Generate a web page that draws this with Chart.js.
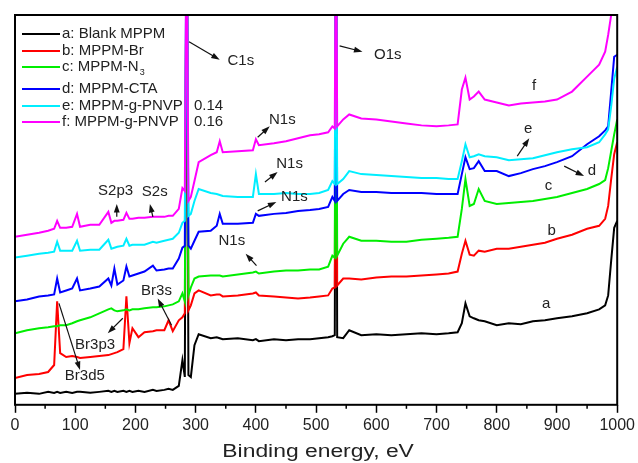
<!DOCTYPE html>
<html>
<head>
<meta charset="utf-8">
<script src="https://cdn.jsdelivr.net/npm/chart.js@4.4.0/dist/chart.umd.min.js"></script>
<style>
  body { margin: 0; background: #fff; }
  canvas { display: block; }
</style>
</head>
<body>
<canvas id="xpsChart" width="638" height="463"></canvas>
<script>
// binding energy (eV), shared by every spectrum
const energy = [0, 20, 40, 55, 65, 70, 75, 85, 95, 103,
  108, 125, 140, 155, 160, 165, 170, 180, 185, 190,
  195, 205, 215, 229, 235, 248, 255, 262, 272, 278,
  282, 285, 288, 292, 298, 305, 325, 335, 340, 345,
  370, 395, 400, 405, 430, 450, 470, 490, 505, 520,
  527, 531, 533, 535, 545, 555, 575, 600, 625, 650,
  675, 700, 720, 735, 742, 748, 755, 762, 770, 780,
  800, 820, 840, 860, 880, 900, 925, 950, 970, 980,
  985, 990, 995, 1000];

// intensities (a.u., curves already offset as in the figure)
const blankMPPM = [11, 12, 11, 13, 12, 13, 12, 13, 12, 13,
  13, 12, 13, 14, 13, 14, 13, 14, 13, 14,
  13, 14, 13, 15, 14, 15, 16, 15, 19, 45,
  28, 520, 30, 28, 60, 71, 67, 68, 67, 66,
  67, 65, 66, 64, 66, 65, 66, 66, 67, 68,
  69, 70, 520, 68, 67, 75, 70, 71, 70, 71,
  72, 71, 72, 73, 82, 102, 89, 87, 85, 84,
  80, 82, 81, 84, 85, 87, 89, 92, 96, 100,
  110, 145, 178, 185];
const mppmBr = [27, 30, 31, 33, 40, 104, 52, 48, 49, 48,
  47, 48, 49, 50, 51, 52, 53, 56, 109, 62,
  77, 68, 73, 74, 75, 75, 85, 74, 85, 88,
  92, 520, 95, 100, 112, 115, 110, 111, 111, 109,
  110, 112, 113, 110, 109, 108, 107, 108, 109, 110,
  117, 118, 520, 120, 127, 127, 126, 128, 129, 129,
  130, 131, 132, 134, 152, 165, 151, 150, 155, 154,
  157, 157, 159, 161, 163, 167, 171, 177, 180, 187,
  200, 227, 252, 264];
const mppmN3 = [72, 75, 77, 78, 79, 79, 80, 80, 82, 84,
  85, 88, 92, 96, 97, 95, 94, 95, 96, 95,
  96, 96, 97, 98, 98, 99, 100, 101, 104, 112,
  104, 520, 110, 118, 127, 129, 130, 130, 130, 129,
  131, 133, 134, 132, 134, 135, 135, 136, 136, 139,
  150, 148, 520, 150, 162, 169, 165, 165, 164, 164,
  166, 167, 168, 169, 197, 227, 200, 202, 217, 205,
  202, 203, 204, 205, 207, 209, 213, 217, 222, 226,
  238, 255, 272, 287];
const mppmCTA = [104, 106, 109, 110, 111, 127, 113, 115, 117, 127,
  115, 117, 119, 127, 120, 137, 121, 125, 139, 129,
  130, 132, 134, 140, 135, 136, 137, 137, 147, 158,
  160, 520, 160, 157, 165, 174, 175, 180, 192, 182,
  182, 183, 192, 190, 192, 193, 195, 196, 197, 199,
  209, 205, 520, 205, 212, 216, 214, 214, 213, 213,
  213, 212, 212, 212, 232, 249, 237, 238, 245, 235,
  235, 230, 233, 237, 240, 244, 250, 262, 270, 276,
  280, 315, 350, 352];
const pnvp014 = [148, 150, 152, 153, 154, 164, 155, 155, 155, 165,
  155, 156, 156, 166, 157, 158, 159, 160, 167, 160,
  161, 161, 161, 164, 163, 165, 166, 167, 173, 183,
  185, 520, 190, 192, 205, 217, 213, 212, 211, 210,
  209, 209, 232, 212, 212, 213, 212, 212, 213, 216,
  225, 222, 520, 222, 227, 235, 232, 231, 230, 229,
  228, 228, 227, 227, 245, 262, 249, 250, 252, 250,
  249, 246, 247, 248, 251, 254, 257, 259, 264, 272,
  277, 300, 328, 340];
const pnvp016 = [169, 171, 173, 175, 177, 185, 178, 178, 179, 192,
  179, 181, 181, 194, 183, 185, 185, 186, 193, 187,
  187, 188, 188, 189, 189, 189, 190, 190, 197, 218,
  215, 520, 205, 209, 225, 244, 251, 254, 265, 254,
  255, 256, 267, 261, 263, 265, 268, 271, 272, 274,
  280, 278, 520, 280, 287, 292, 288, 287, 285, 283,
  281, 280, 281, 282, 317, 329, 307, 310, 315, 307,
  304, 301, 303, 304, 305, 307, 315, 330, 342, 355,
  372, 392, 430, 460];

const seriesNames = ["a: Blank MPPM", "b: MPPM-Br", "c: MPPM-N", "d: MPPM-CTA", "e: MPPM-g-PNVP", "f: MPPM-g-PNVP"];
const seriesSuffix = ["", "", "3", "", "0.14", "0.16"];
const seriesColors = ["#000000", "#ff0000", "#00ee00", "#0000ff", "#00eeff", "#ff00ff"];
const allSeries = [blankMPPM, mppmBr, mppmN3, mppmCTA, pnvp014, pnvp016];

const majorTicks = [0, 100, 200, 300, 400, 500, 600, 700, 800, 900, 1000];
const minorTicks = [50, 150, 250, 350, 450, 550, 650, 750, 850, 950];

// peak labels: text, energy, intensity
const peakText = ["C1s", "O1s", "N1s", "N1s", "N1s", "N1s", "S2p3", "S2s", "Br3s", "Br3p3", "Br3d5", "f", "e", "d", "c", "b", "a"];
const peakTextX = [375, 619, 444, 456, 464, 360, 167, 232, 235, 133, 116, 862, 852, 958, 886, 891, 882];
const peakTextY = [346, 352, 287, 242, 209, 165, 215, 214, 115, 60, 29, 321, 278, 235, 220, 175, 102];
// arrows: from (x1,y1) to head at (x2,y2)
const arrowFrom = [[289, 365], [539, 361], [403, 269], [415, 224], [403, 195], [401, 140], [169, 189], [229, 189], [260, 80], [179, 87], [73, 102], [834, 250], [912, 240]];
const arrowTo = [[340, 347], [577, 355], [423, 280], [436, 234], [434, 204], [383, 152], [169, 202], [224, 202], [237, 107], [154, 72], [108, 35], [854, 268], [945, 230]];

const FONT = "'Liberation Sans', Arial, sans-serif";

function drawArrow(ctx, x1, y1, x2, y2) {
  const ang = Math.atan2(y2 - y1, x2 - x1);
  ctx.beginPath();
  ctx.moveTo(x1, y1);
  ctx.lineTo(x2 - 4 * Math.cos(ang), y2 - 4 * Math.sin(ang));
  ctx.stroke();
  ctx.beginPath();
  ctx.moveTo(x2, y2);
  ctx.lineTo(x2 - 9 * Math.cos(ang - 0.33), y2 - 9 * Math.sin(ang - 0.33));
  ctx.lineTo(x2 - 9 * Math.cos(ang + 0.33), y2 - 9 * Math.sin(ang + 0.33));
  ctx.closePath();
  ctx.fill();
}

const decorPlugin = {
  id: "decor",
  afterDatasetsDraw(chart) {
    const { ctx, chartArea: a, scales: { x, y } } = chart;
    ctx.save();

    // frame
    ctx.strokeStyle = "#000";
    ctx.lineWidth = 2;
    ctx.strokeRect(a.left, a.top, a.right - a.left, a.bottom - a.top);

    // minor ticks
    ctx.lineWidth = 1.5;
    minorTicks.forEach((v) => {
      const px = x.getPixelForValue(v);
      ctx.beginPath();
      ctx.moveTo(px, a.bottom);
      ctx.lineTo(px, a.bottom + 4);
      ctx.stroke();
    });

    // legend
    ctx.textBaseline = "middle";
    const rowY = [34, 51, 67, 89, 106, 122];
    seriesNames.forEach((name, i) => {
      ctx.strokeStyle = seriesColors[i];
      ctx.lineWidth = 2;
      ctx.beginPath();
      ctx.moveTo(22, rowY[i]);
      ctx.lineTo(60, rowY[i]);
      ctx.stroke();
      ctx.fillStyle = "#222";
      ctx.font = "15px " + FONT;
      ctx.fillText(name, 62, rowY[i]);
      if (seriesSuffix[i] === "3") {
        const w = ctx.measureText(name).width;
        ctx.font = "9px " + FONT;
        ctx.fillText("3", 62 + w + 1, rowY[i] + 6);
      } else if (seriesSuffix[i]) {
        ctx.fillText(seriesSuffix[i], 194, rowY[i]);
      }
    });

    // peak labels
    ctx.fillStyle = "#222";
    ctx.font = "15px " + FONT;
    ctx.textAlign = "center";
    peakText.forEach((t, i) => {
      ctx.fillText(t, x.getPixelForValue(peakTextX[i]), y.getPixelForValue(peakTextY[i]));
    });

    // arrows
    ctx.strokeStyle = "#111";
    ctx.fillStyle = "#111";
    ctx.lineWidth = 1.2;
    arrowFrom.forEach((p, i) => {
      drawArrow(ctx,
        x.getPixelForValue(p[0]), y.getPixelForValue(p[1]),
        x.getPixelForValue(arrowTo[i][0]), y.getPixelForValue(arrowTo[i][1]));
    });
    ctx.restore();
  },
  afterDraw(chart) {
    // axis title (the figure uses a horizontally stretched font)
    const { ctx, chartArea: a } = chart;
    ctx.save();
    ctx.fillStyle = "#222";
    ctx.font = "18px " + FONT;
    ctx.textAlign = "center";
    ctx.textBaseline = "middle";
    ctx.translate((a.left + a.right) / 2 + 2, 452);
    ctx.scale(1.27, 1);
    ctx.fillText("Binding energy, eV", 0, 0);
    ctx.restore();
  },
};

const ctx = document.getElementById("xpsChart").getContext("2d");
new Chart(ctx, {
  type: "line",
  data: {
    labels: energy,
    datasets: allSeries.map((vals, i) => ({
      label: seriesNames[i] + seriesSuffix[i],
      data: vals.map((v, j) => ({ x: energy[j], y: v })),
      borderColor: seriesColors[i],
      borderWidth: 2,
      pointRadius: 0,
      tension: 0,
      order: allSeries.length - i,
    })),
  },
  options: {
    responsive: false,
    animation: false,
    layout: { padding: { left: 15, right: 20, top: 15, bottom: 25 } },
    plugins: {
      legend: { display: false },
      tooltip: { enabled: false },
    },
    scales: {
      x: {
        type: "linear",
        min: 0,
        max: 1000,
        afterBuildTicks: (scale) => {
          scale.ticks = majorTicks.map((v) => ({ value: v }));
        },
        ticks: {
          color: "#222",
          font: { family: FONT, size: 16 },
          padding: 3,
          maxRotation: 0,
          callback: (v) => String(v),
        },
        grid: {
          display: true,
          drawOnChartArea: false,
          drawTicks: true,
          tickLength: 8,
          tickColor: "#000",
          tickWidth: 1.5,
        },
        border: { display: false },
      },
      y: {
        display: false,
        min: 0,
        max: 392,
      },
    },
  },
  plugins: [decorPlugin],
});
</script>
</body>
</html>
